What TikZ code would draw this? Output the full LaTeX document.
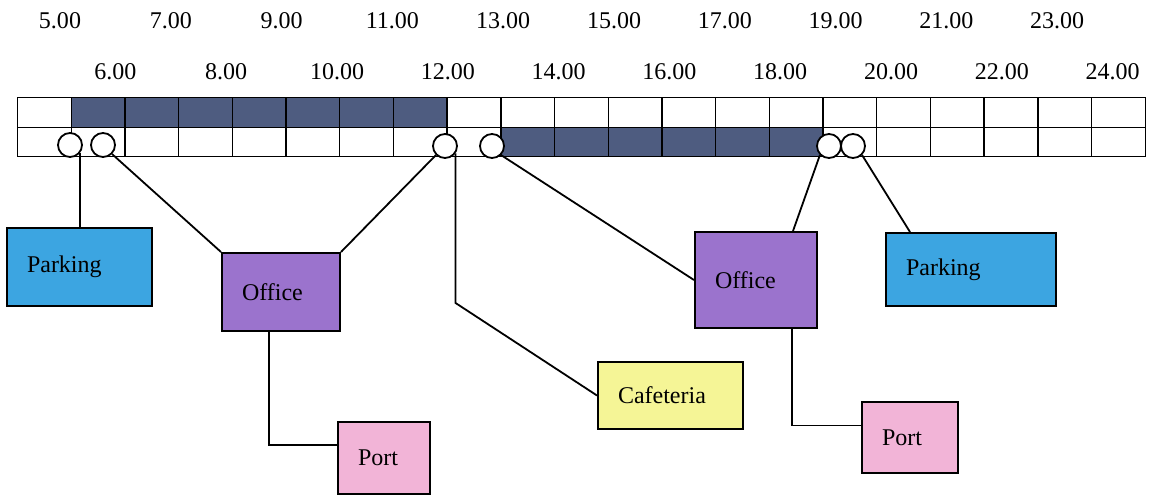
\documentclass[tikz,border=0pt]{standalone}
\usepackage{fontspec}
\setmainfont{Liberation Serif}
\usetikzlibrary{positioning}

\definecolor{busy}{RGB}{78,92,128}
\definecolor{parkblue}{RGB}{60,165,225}
\definecolor{officepurple}{RGB}{155,115,205}
\definecolor{cafeyellow}{RGB}{245,245,150}
\definecolor{portpink}{RGB}{242,180,215}

\begin{document}
\begin{tikzpicture}[x=0.5pt,y=-0.5pt,
        place node/.style={draw,line width=1pt,align=left,inner xsep=10pt,inner ysep=0pt,
          font=\fontsize{12}{14}\selectfont},
        stop node/.style={circle,draw,fill=white,line width=0.9pt,minimum size=12pt,inner sep=0pt},
        hour/.style={font=\fontsize{12}{14}\selectfont},
        grid line/.style={line width=0.7pt},
        link/.style={line width=0.9pt}]
        \useasboundingbox (0,0) rectangle (1155,496);

        % time scale
        \foreach \h in {5,...,24} {
          \ifodd\h \def\ty{21}\else \def\ty{72}\fi
          \node[hour] (t\h) at ({60+(\h-5)*55.4},\ty) {\h.00};
        }

        % two rows of slots
        \fill[busy] (71.2,97.5) rectangle (447.1,127.5);
        \fill[busy] (500.8,127.5) rectangle (823,156.5);
        \draw[grid line] (17.5,97.5) rectangle (1145.2,156.5);
        \draw[grid line] (17.5,127.5) -- (1145.2,127.5);
        \foreach \c in {1,...,20}
          \draw[grid line] (17.5+\c*53.7,97.5) -- ++(0,59);

        % stops
        \node[stop node] (s1) at (70,145) {};
        \node[stop node] (s2) at (103,145) {};
        \node[stop node] (s3) at (445,146) {};
        \node[stop node] (s4) at (492,146) {};
        \node[stop node] (s5) at (829,146) {};
        \node[stop node] (s6) at (853,146) {};

        % places
        \node[place node,fill=parkblue,text width=52.5pt,minimum height=39pt] (park1) at (79.5,267) {Parking};
        \node[place node,fill=officepurple,text width=39pt,minimum height=39pt] (o1) at (281,292) {Office};
        \node[place node,fill=cafeyellow,text width=52.5pt,minimum height=33.5pt] (caf) at (670.5,395.5) {Cafeteria};
        \node[place node,fill=portpink,text width=26pt,minimum height=36pt] (port1) at (384,458) {Port};
        \node[place node,fill=officepurple,text width=41pt,minimum height=48pt] (o2) at (756,280) {Office};
        \node[place node,fill=portpink,text width=28pt,minimum height=35.5pt] (port2) at (910,437.5) {Port};
        \node[place node,fill=parkblue,text width=65pt,minimum height=36.5pt] (park2) at (971,269.5) {Parking};

        \path[link]
        (s1.-40) edge (s1.-40 |- park1.north)
        (s2.-45) edge (o1.north west)
        (s3.-135) edge (o1.north east)
        (s4.-45) edge (o2.west)
        (s5.-135) edge ([xshift=-12.5pt]o2.north east)
        (s6.-45) edge ([xshift=12.5pt]park2.north west)
        ;
        \coordinate (bend) at (s3.-35 |- 0,303);
        \draw[link] (s3.-35) -- (bend) -- (caf.west);
        \draw[link] ([xshift=-6pt]o1.south) |- ([yshift=6.5pt]port1.west);
        \draw[link] ([xshift=18pt]o2.south) |- ([yshift=6pt]port2.west);
\end{tikzpicture}
\end{document}
